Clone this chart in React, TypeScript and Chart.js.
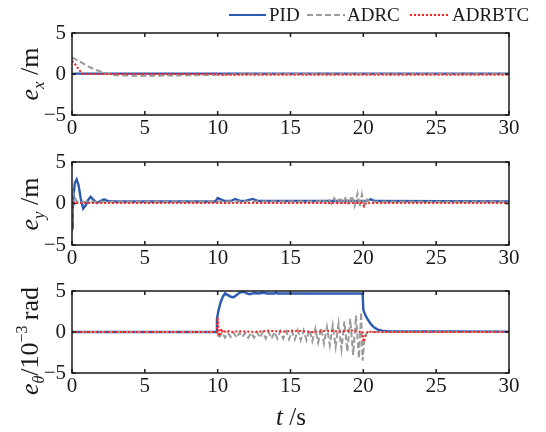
import React, { useEffect, useRef } from "react";
import { Chart, registerables } from "chart.js";
Chart.register(...registerables);

const FONT = '"Liberation Serif", "Times New Roman", serif';
const INK = "#1a1a1a";

const seriesNames = ["PID", "ADRC", "ADRBTC"];
const seriesColors = ["#2b5bb0", "#9a9a9a", "#ff1f1f"];
const xTicks = [0, 5, 10, 15, 20, 25, 30];
const yTicks = [-5, 0, 5];

// ---- e_x (m) ----
const exT_PID = [0, 0.3, 30];
const exPID = [0, 0.05, 0.05];
const exT_ADRC = [0, 0.3, 0.6, 0.9, 1.2, 1.5, 1.8, 2.1, 2.4, 2.7, 3.0, 4.0, 6.0, 8.0, 10.0, 12.0, 30];
const exADRC = [2.0, 1.75, 1.45, 1.15, 0.85, 0.6, 0.4, 0.2, 0.05, -0.05, -0.15, -0.2, -0.2, -0.15, -0.1, 0, 0];
const exT_BTC = [0, 0.15, 0.3, 0.45, 0.6, 0.75, 10, 10.1, 30];
const exBTC = [1.6, 1.35, 1.0, 0.6, 0.25, 0.0, 0.0, -0.1, -0.1];

// ---- e_y (m) ----
const eyT_PID = [0, 0.05, 0.12, 0.2, 0.32, 0.45, 0.6, 0.77, 0.95, 1.1, 1.28, 1.45, 1.7, 1.95, 2.2, 2.45, 2.8, 9.85, 10.0, 10.2, 10.5, 10.9, 11.2, 11.5, 11.9, 12.4, 12.8, 20.2, 20.5, 20.8, 30];
const eyPID = [-3.0, -1.0, 1.2, 2.5, 2.9, 2.2, 0.6, -0.6, -0.2, 0.4, 0.8, 0.5, 0.05, 0.3, 0.5, 0.3, 0.25, 0.25, 0.65, 0.5, 0.3, 0.3, 0.55, 0.35, 0.3, 0.55, 0.3, 0.3, 0.5, 0.3, 0.25];
const eyT_ADRC = [0, 0.08, 0.18, 0.3, 0.5, 17.0, 17.2, 17.4, 17.6, 17.8, 18.0, 18.2, 18.4, 18.6, 18.8, 19.0, 19.2, 19.4, 19.6, 19.75, 19.9, 20.05, 20.25, 20.5, 30];
const eyADRC = [-3.5, 1.3, 0.9, 0.3, 0.2, 0.25, 0.5, 0.05, 0.55, 0.0, 0.65, -0.1, 0.75, -0.15, 0.85, -0.2, 0.95, -0.3, 1.2, -0.4, 1.1, -0.2, 0.5, 0.2, 0.2];
const eyT_BTC = [0, 0.05, 0.15, 19.9, 20.05, 20.2, 20.4, 30];
const eyBTC = [-0.6, 0.3, 0.05, 0.05, -0.35, 0.1, 0.05, 0.05];

// ---- e_theta (1e-3 rad) ----
const etT_PID = [0, 9.9, 9.95, 10.05, 10.2, 10.35, 10.5, 10.7, 10.9, 11.1, 11.3, 11.5, 11.8, 12.0, 12.2, 12.5, 12.8, 13.0, 13.1, 13.4, 13.9, 14.0, 14.1, 19.95, 20.0, 20.15, 20.35, 20.55, 20.75, 21.0, 21.3, 21.6, 30];
const etPID = [0, 0, 1.6, 2.6, 3.6, 4.3, 4.7, 4.5, 4.3, 4.25, 4.5, 4.8, 4.9, 4.7, 4.6, 4.75, 4.7, 4.75, 4.8, 4.7, 4.7, 4.85, 4.7, 4.7, 2.7, 2.0, 1.4, 0.9, 0.55, 0.3, 0.15, 0.1, 0.05];
const etT_ADRC = [0, 9.95, 10.0, 10.1, 10.3, 10.5, 10.7, 10.9, 11.1, 11.3, 11.5, 11.7, 11.9, 12.1, 12.3, 12.5, 12.7, 12.9, 13.1, 13.3, 13.5, 13.7, 13.9, 14.1, 14.3, 14.5, 14.7, 14.9, 15.1, 15.3, 15.5, 15.7, 15.9, 16.1, 16.3, 16.5, 16.7, 16.9, 17.1, 17.3, 17.5, 17.7, 17.9, 18.1, 18.3, 18.5, 18.7, 18.9, 19.1, 19.3, 19.5, 19.7, 19.85, 19.95, 20.1, 20.3, 30];
const etADRC = [0, 0, -0.2, -0.8, 0.0, -0.7, -0.1, -0.6, -0.1, -0.7, -0.1, -0.6, -0.1, -0.7, -0.1, -0.7, 0.0, -0.7, 0.0, -0.8, 0.0, -0.8, 0.0, -0.8, 0.1, -0.8, 0.1, -0.9, 0.1, -0.9, 0.2, -1.0, 0.2, -1.0, 0.3, -1.1, 0.4, -1.3, 0.5, -1.4, 0.6, -1.6, 0.8, -1.8, 1.0, -2.1, 1.3, -2.4, 1.6, -2.8, 2.0, -3.2, 2.4, -3.5, -0.5, 0.0, 0.0];
const etT_BTC = [0, 9.95, 10.0, 10.1, 10.25, 10.4, 10.6, 10.9, 11.5, 12.5, 13.5, 14.5, 15.5, 16.5, 17.5, 18.5, 19.2, 19.7, 19.95, 20.0, 20.1, 20.3, 20.6, 30];
const etBTC = [0, 0, 1.8, -0.5, 0.4, -0.1, 0.2, 0.0, 0.1, 0.0, 0.15, 0.05, 0.15, 0.0, 0.15, 0.05, 0.2, 0.0, 0.1, -1.2, -0.7, 0.1, 0.0, 0.0];

type Part = { t: string; it?: boolean; s: number; dy?: number };

function zip(t: number[], v: number[]) {
  const n = Math.min(t.length, v.length);
  const out: { x: number; y: number }[] = [];
  for (let i = 0; i < n; i++) out.push({ x: t[i], y: v[i] });
  return out;
}

function drawRich(ctx: CanvasRenderingContext2D, parts: Part[], cx: number, cy: number, rot: boolean) {
  ctx.save();
  ctx.translate(cx, cy);
  if (rot) ctx.rotate(-Math.PI / 2);
  let w = 0;
  const ws = parts.map((p) => {
    ctx.font = `${p.it ? "italic " : ""}${p.s}px ${FONT}`;
    const m = ctx.measureText(p.t).width;
    w += m;
    return m;
  });
  let x = -w / 2;
  ctx.textAlign = "left";
  ctx.textBaseline = "alphabetic";
  ctx.fillStyle = INK;
  parts.forEach((p, i) => {
    ctx.font = `${p.it ? "italic " : ""}${p.s}px ${FONT}`;
    ctx.fillText(p.t, x, p.dy || 0);
    x += ws[i];
  });
  ctx.restore();
}

function makeDatasets(sets: { x: number; y: number }[][]) {
  const dashes = [[], [6, 3], [2, 2]];
  const widths = [2.4, 2, 2];
  return sets.map((d, i) => ({
    label: seriesNames[i],
    data: d,
    borderColor: seriesColors[i],
    backgroundColor: seriesColors[i],
    borderWidth: widths[i],
    borderDash: dashes[i],
    pointRadius: 0,
    tension: 0,
    fill: false,
    order: 3 - i,
  }));
}

function makeConfig(
  sets: { x: number; y: number }[][],
  padTop: number,
  xHeight: number,
  yTitle: Part[],
  yTitleX: number,
  yTitleY: number,
  extra: (chart: any) => void
) {
  const framePlugin = {
    id: "frame",
    afterDatasetsDraw(chart: any) {
      const { ctx, chartArea: a, scales } = chart;
      ctx.save();
      ctx.strokeStyle = INK;
      ctx.lineWidth = 1.5;
      ctx.beginPath();
      xTicks.forEach((v) => {
        const px = scales.x.getPixelForValue(v);
        ctx.moveTo(px, a.bottom);
        ctx.lineTo(px, a.bottom - 4);
        ctx.moveTo(px, a.top);
        ctx.lineTo(px, a.top + 4);
      });
      yTicks.forEach((v) => {
        const py = scales.y.getPixelForValue(v);
        ctx.moveTo(a.left, py);
        ctx.lineTo(a.left + 4, py);
        ctx.moveTo(a.right, py);
        ctx.lineTo(a.right - 4, py);
      });
      ctx.stroke();
      ctx.strokeRect(a.left, a.top, a.right - a.left, a.bottom - a.top);
      ctx.restore();
    },
    afterDraw(chart: any) {
      drawRich(chart.ctx, yTitle, yTitleX, yTitleY, true);
      extra(chart);
    },
  };
  return {
    type: "line" as const,
    data: { datasets: makeDatasets(sets) as any },
    options: {
      animation: false as const,
      responsive: false,
      devicePixelRatio: 1,
      events: [],
      layout: { padding: { left: 0, right: 37, top: padTop, bottom: 0 } },
      plugins: { legend: { display: false }, tooltip: { enabled: false } },
      scales: {
        x: {
          type: "linear" as const,
          min: 0,
          max: 30,
          afterBuildTicks: (s: any) => {
            s.ticks = xTicks.map((v) => ({ value: v }));
          },
          afterFit: (s: any) => {
            s.height = xHeight;
          },
          ticks: {
            font: { family: FONT, size: 21 },
            color: INK,
            padding: 1,
            maxRotation: 0,
            autoSkip: false,
          },
          grid: { display: false, drawTicks: false },
          border: { display: false },
        },
        y: {
          type: "linear" as const,
          min: -5,
          max: 5,
          afterBuildTicks: (s: any) => {
            s.ticks = yTicks.map((v) => ({ value: v }));
          },
          afterFit: (s: any) => {
            s.width = 72;
          },
          ticks: {
            font: { family: FONT, size: 21 },
            color: INK,
            padding: 6,
            callback: (v: any) => (Number(v) < 0 ? "\u2212" + Math.abs(Number(v)) : String(v)),
          },
          grid: { display: false, drawTicks: false },
          border: { display: false },
        },
      },
    },
    plugins: [framePlugin],
  };
}

function drawLegend(chart: any) {
  const ctx: CanvasRenderingContext2D = chart.ctx;
  const items = [
    { x0: 229, x1: 266, tx: 269 },
    { x0: 307, x1: 345, tx: 347 },
    { x0: 410, x1: 449, tx: 452 },
  ];
  const y = 15;
  const dashes = [[], [6, 3], [2, 2]];
  ctx.save();
  items.forEach((it, i) => {
    ctx.strokeStyle = seriesColors[i];
    ctx.lineWidth = 2;
    ctx.setLineDash(dashes[i]);
    ctx.beginPath();
    ctx.moveTo(it.x0, y);
    ctx.lineTo(it.x1, y);
    ctx.stroke();
    ctx.setLineDash([]);
    ctx.fillStyle = INK;
    ctx.font = `19px ${FONT}`;
    ctx.textAlign = "left";
    ctx.textBaseline = "middle";
    ctx.fillText(seriesNames[i], it.tx, y + 1);
  });
  ctx.restore();
}

export default function App() {
  const r1 = useRef<HTMLCanvasElement>(null);
  const r2 = useRef<HTMLCanvasElement>(null);
  const r3 = useRef<HTMLCanvasElement>(null);

  useEffect(() => {
    const c1 = new Chart(
      r1.current as HTMLCanvasElement,
      makeConfig(
        [zip(exT_PID, exPID), zip(exT_ADRC, exADRC), zip(exT_BTC, exBTC)],
        33,
        25,
        [
          { t: "e", it: true, s: 26 },
          { t: "x", it: true, s: 17, dy: 6 },
          { t: " /m", s: 26 },
        ],
        38,
        74,
        drawLegend
      ) as any
    );
    const c2 = new Chart(
      r2.current as HTMLCanvasElement,
      makeConfig(
        [zip(eyT_PID, eyPID), zip(eyT_ADRC, eyADRC), zip(eyT_BTC, eyBTC)],
        22,
        25,
        [
          { t: "e", it: true, s: 26 },
          { t: "y", it: true, s: 17, dy: 6 },
          { t: " /m", s: 26 },
        ],
        38,
        64,
        () => {}
      ) as any
    );
    const c3 = new Chart(
      r3.current as HTMLCanvasElement,
      makeConfig(
        [zip(etT_PID, etPID), zip(etT_ADRC, etADRC), zip(etT_BTC, etBTC)],
        21,
        59,
        [
          { t: "e", it: true, s: 26 },
          { t: "\u03b8", it: true, s: 16, dy: 6 },
          { t: "/10", s: 26 },
          { t: "\u22123", s: 16, dy: -11 },
          { t: "\u2009rad", s: 26 },
        ],
        38,
        71,
        (chart: any) => {
          drawRich(
            chart.ctx,
            [
              { t: "t", it: true, s: 25 },
              { t: " /s", s: 25 },
            ],
            291,
            155,
            false
          );
        }
      ) as any
    );
    return () => {
      c1.destroy();
      c2.destroy();
      c3.destroy();
    };
  }, []);

  const cs = (top: number, h: number): React.CSSProperties => ({
    position: "absolute",
    left: 0,
    top,
    width: 546,
    height: h,
  });

  return (
    <div style={{ position: "absolute", left: 0, top: 0, width: 546, height: 432, background: "#fff" }}>
      <canvas ref={r1} width={546} height={140} style={cs(0, 140)} />
      <canvas ref={r2} width={546} height={130} style={cs(140, 130)} />
      <canvas ref={r3} width={546} height={162} style={cs(270, 162)} />
    </div>
  );
}
